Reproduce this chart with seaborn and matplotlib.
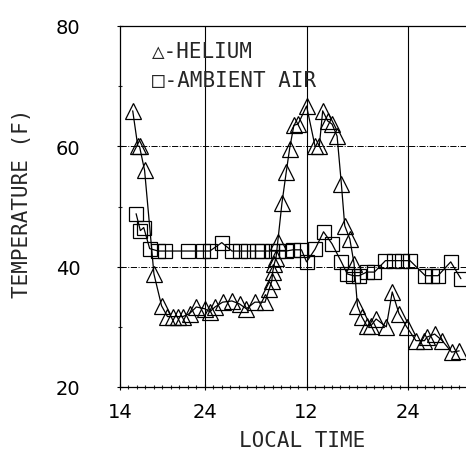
import matplotlib
matplotlib.use("Agg")
import matplotlib.pyplot as plt
import seaborn as sns
import pandas as pd
from matplotlib.ticker import MultipleLocator, FixedLocator

# Helium temperature (continuous hours from start of day 1)
helium_time = [15.5, 16.1, 16.3, 16.9, 18.0, 18.9, 19.6, 20.2, 20.8, 21.4, 22.2, 23.0,
               24.0, 24.6, 25.2, 26.1, 27.2, 28.1, 28.9, 29.9, 31.1, 31.6, 31.9, 32.0,
               32.2, 32.4, 32.6, 33.1, 33.6, 34.0, 34.5, 35.0, 36.0, 37.0, 37.5, 37.9,
               38.5, 39.0, 39.6, 40.1, 40.5, 41.1, 41.6, 42.0, 42.5, 43.1, 43.6, 44.2,
               45.4, 46.1, 46.9, 47.8, 48.9, 49.9, 50.2, 51.1, 52.0, 53.1, 54.0]
helium_temp = [65.9, 60.0, 60.0, 56.0, 38.8, 33.5, 31.7, 31.7, 31.7, 31.7, 32.2, 33.3,
               33.0, 32.5, 33.3, 34.1, 34.3, 33.8, 33.0, 34.1, 34.1, 36.3, 37.6, 39.1,
               40.5, 41.5, 44.1, 50.6, 55.7, 59.6, 63.5, 63.7, 66.7, 60.0, 60.0, 65.9,
               64.2, 63.7, 61.7, 53.8, 46.8, 44.6, 40.5, 33.5, 31.7, 30.2, 30.2, 31.3,
               30.0, 35.8, 32.2, 30.0, 27.7, 27.7, 28.3, 28.8, 27.7, 25.8, 26.0]

# Ambient air temperature
air_time = [15.9, 16.4, 16.8, 17.5, 18.5, 19.3, 22.0, 23.8, 24.6, 26.0, 27.2, 28.1,
            29.1, 30.1, 30.8, 31.9, 32.6, 33.6, 34.4, 35.4, 36.0, 37.0, 38.0, 39.0,
            40.1, 40.8, 41.5, 42.2, 43.1, 44.0, 45.3, 46.3, 47.2, 48.2, 50.0, 50.8,
            51.5, 53.0, 54.2]
air_temp = [48.8, 46.0, 46.5, 43.0, 42.6, 42.6, 42.6, 42.6, 42.6, 44.0, 42.6, 42.6,
            42.6, 42.6, 42.6, 42.6, 42.6, 42.6, 42.8, 42.8, 40.8, 42.9, 45.8, 43.8,
            40.8, 38.8, 38.5, 38.5, 39.1, 39.1, 41.0, 41.0, 41.0, 41.0, 38.5, 38.5,
            38.5, 40.8, 38.0]

xtick_pos = [14, 24, 36, 48]
xtick_labels = ["14", "24", "12", "24"]
ytick_pos = [20, 40, 60, 80]
ytick_labels = ["20", "40", "60", "80"]

sns.set_style("ticks")
plt.rcParams['font.family'] = ['DejaVu Sans']

fig = plt.figure(figsize=(4.66, 4.56), dpi=100)
ax = fig.add_axes([120/466, 1-388/456, 1-120/466, (388-27)/456])

he = pd.DataFrame({"t": helium_time, "T": helium_temp})
am = pd.DataFrame({"t": air_time, "T": air_temp})

sns.lineplot(data=am, x="t", y="T", ax=ax, color="black", lw=0.9, marker="s",
             markersize=10, markerfacecolor="none", markeredgecolor="black",
             markeredgewidth=0.9, sort=False)
sns.lineplot(data=he, x="t", y="T", ax=ax, color="black", lw=0.9, marker="^",
             markersize=11, markerfacecolor="none", markeredgecolor="black",
             markeredgewidth=0.9, sort=False)

ax.set_xlim(14, 54.8)
ax.set_ylim(20, 80)

for xv in [24, 36, 48]:
    ax.axvline(xv, color="black", lw=0.8, zorder=0)
for yv in [40, 60]:
    ax.axhline(yv, color="black", lw=0.7, ls="-.", zorder=0)

ax.xaxis.set_major_locator(FixedLocator(xtick_pos))
ax.set_xticklabels(xtick_labels)
ax.xaxis.set_minor_locator(MultipleLocator(1))
ax.yaxis.set_major_locator(FixedLocator(ytick_pos))
ax.set_yticklabels(ytick_labels)
ax.yaxis.set_minor_locator(MultipleLocator(10))

ax.tick_params(axis="both", which="major", direction="inout", length=5, width=0.8,
               labelsize=14, colors="black")
ax.tick_params(axis="y", which="major", pad=26)
ax.tick_params(axis="x", which="major", pad=8)
ax.tick_params(axis="both", which="minor", direction="inout", length=3, width=0.8)

ax.spines["right"].set_visible(False)
for s in ["left", "bottom", "top"]:
    ax.spines[s].set_linewidth(0.9)
    ax.spines[s].set_color("black")

ax.set_xlabel("")
ax.set_ylabel("")
fig.text(22/466, 1-203/456, "TEMPERATURE (F)", rotation=90, ha="center", va="center",
         fontsize=15, family="DejaVu Sans Mono")
fig.text(302/466, 1-441/456, "LOCAL TIME", ha="center", va="center",
         fontsize=15, family="DejaVu Sans Mono")

fig.text(152/466, 1-52/456, "△-HELIUM", ha="left", va="center", fontsize=15,
         family="DejaVu Sans Mono")
fig.text(152/466, 1-81/456, "□-AMBIENT AIR", ha="left", va="center", fontsize=15,
         family="DejaVu Sans Mono")

fig.savefig("out.png", dpi=100)
